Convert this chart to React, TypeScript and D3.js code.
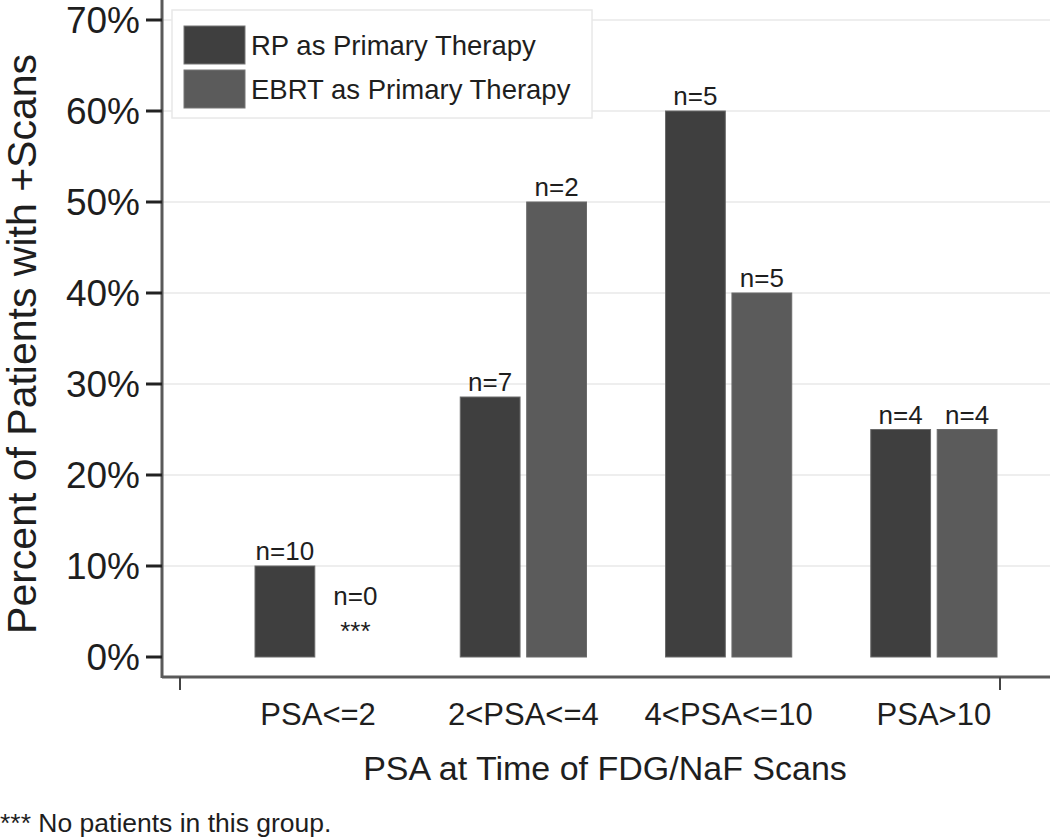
import React from "react";
import * as d3 from "d3";

const categories = ["PSA<=2", "2<PSA<=4", "4<PSA<=10", "PSA>10"];
const seriesNames = ["RP as Primary Therapy", "EBRT as Primary Therapy"];
const rpValues = [10, 28.57, 60, 25];
const rpCounts = [10, 7, 5, 4];
const ebrtValues = [0, 50, 40, 25];
const ebrtCounts = [0, 2, 5, 4];
const yTicks = [0, 10, 20, 30, 40, 50, 60, 70];
const colors = ["#3f3f3f", "#5b5b5b"];

const W = 1050, H = 840;
const FONT = "Liberation Sans, Arial, sans-serif";

const App = () => {
  const axisX = 162, axisY = 677;
  const y = d3.scaleLinear().domain([0, 70]).range([657, 20]);
  const x = d3.scaleBand<string>().domain(categories).range([216, 1036]).paddingInner(0.385).paddingOuter(0.19);
  const sub = d3.scaleBand<number>().domain([0, 1]).range([0, x.bandwidth()]).paddingInner(0.1);
  const frame = d3.scaleLinear().domain([0, 1]).range([180, 1000]);

  const rows = categories.map((c, i) => ({
    cat: c,
    bars: [
      { s: 0, v: rpValues[i], n: rpCounts[i] },
      { s: 1, v: ebrtValues[i], n: ebrtCounts[i] },
    ],
  }));

  return (
    <svg width={W} height={H} style={{ position: "absolute", left: 0, top: 0, background: "#fff" }} fontFamily={FONT}>
      {/* grid */}
      {yTicks.filter(t => t > 0).map(t => (
        <line key={t} x1={axisX} x2={W} y1={y(t)} y2={y(t)} stroke="#eeeeee" strokeWidth={2} />
      ))}

      {/* legend */}
      <rect x={172} y={10} width={420} height={108} fill="#fff" stroke="#e8e8e8" strokeWidth={1.5} />
      {seriesNames.map((s, i) => (
        <g key={s} transform={`translate(184,${26 + i * 44})`}>
          <rect width={61} height={38} fill={colors[i]} stroke="#777" strokeWidth={1} />
          <text x={67} y={29} fontSize={27.5} fill="#1e1e1e">{s}</text>
        </g>
      ))}

      {/* bars */}
      {rows.map(r => (
        <g key={r.cat} transform={`translate(${x(r.cat)},0)`}>
          {r.bars.map(b => {
            const bx = sub(b.s)!;
            const cx = bx + sub.bandwidth() / 2;
            if (b.n === 0) {
              return (
                <g key={b.s}>
                  <text x={cx + 4} y={y(5.7)} textAnchor="middle" fontSize={26} fill="#1e1e1e">n=0</text>
                  <text x={cx + 4} y={y(1.9)} textAnchor="middle" fontSize={26} fill="#1e1e1e">***</text>
                </g>
              );
            }
            return (
              <g key={b.s}>
                <rect x={bx} y={y(b.v)} width={sub.bandwidth()} height={y(0) - y(b.v)} fill={colors[b.s]} stroke="#6a6a6a" strokeWidth={1} />
                <text x={cx} y={y(b.v) - 6} textAnchor="middle" fontSize={26} fill="#1e1e1e">{`n=${b.n}`}</text>
              </g>
            );
          })}
          <text x={x.bandwidth() / 2} y={725} textAnchor="middle" fontSize={31} fill="#1e1e1e">{r.cat}</text>
        </g>
      ))}

      {/* y axis */}
      <line x1={axisX} x2={axisX} y1={0} y2={axisY + 1} stroke="#5a5a5a" strokeWidth={3} />
      {yTicks.map(t => (
        <g key={t} transform={`translate(0,${y(t)})`}>
          <line x1={146} x2={axisX} stroke="#222" strokeWidth={3} />
          <text x={140} y={13} textAnchor="end" fontSize={37} fill="#1e1e1e">{`${t}%`}</text>
        </g>
      ))}

      {/* x axis */}
      <line x1={axisX} x2={W} y1={axisY} y2={axisY} stroke="#5a5a5a" strokeWidth={3} />
      {frame.ticks(1).map(t => (
        <line key={t} x1={frame(t)} x2={frame(t)} y1={axisY} y2={axisY + 13} stroke="#444" strokeWidth={2} />
      ))}

      <text x={605} y={780} textAnchor="middle" fontSize={34} fill="#1e1e1e">PSA at Time of FDG/NaF Scans</text>
      <text transform={`translate(36,${y(34.4)}) rotate(-90)`} textAnchor="middle" fontSize={41} fill="#1e1e1e">
        Percent of Patients with +Scans
      </text>
      <text x={0} y={832} fontSize={26.5} fill="#1e1e1e">*** No patients in this group.</text>
    </svg>
  );
};

export default App;
